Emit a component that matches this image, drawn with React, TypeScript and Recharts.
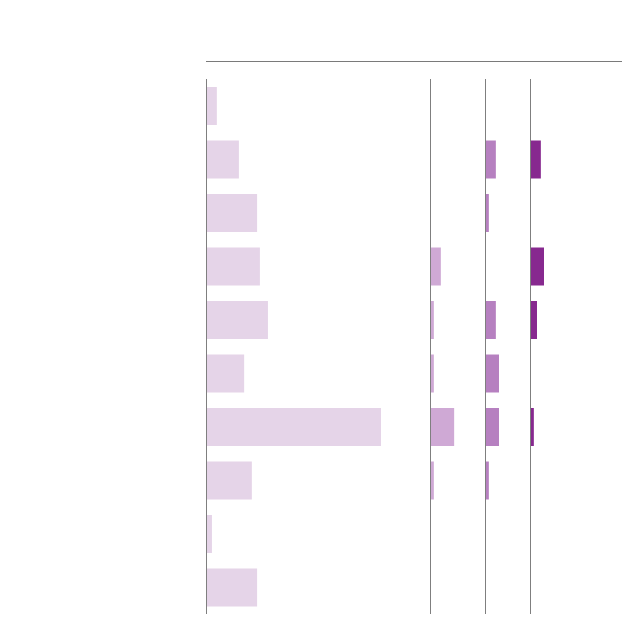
import React from "react";
import { BarChart, Bar, XAxis, YAxis, ReferenceLine } from "recharts";

const categories = ["A", "B", "C", "D", "E", "F", "G", "H", "I", "J"];
const panel1 = [3.1, 9.4, 14.6, 15.4, 17.7, 10.9, 50, 13.1, 1.7, 14.6];
const panel2 = [0, 0, 0, 3.1, 1.1, 1.1, 6.9, 1.1, 0, 0];
const panel3 = [0, 3.1, 1.1, 0, 3.1, 4, 4, 1.1, 0, 0];
const panel4 = [0, 3.1, 0, 4, 2, 0, 1.1, 0, 0, 0];

const PX_PER_UNIT = 3.5;
const TOP = 79;
const HEIGHT = 535;

const panels = [
  { values: panel1, left: 206, width: 224, color: "#e5d4e8" },
  { values: panel2, left: 430, width: 55, color: "#cfa9d5" },
  { values: panel3, left: 485, width: 45, color: "#b680c0" },
  { values: panel4, left: 530, width: 92, color: "#87298f" },
];

const CrispLine = (props: any) => {
  const x = Math.round(props.x1) + 0.5;
  return <line x1={x} x2={x} y1={props.y1} y2={props.y2} stroke="#7f7f7f" strokeWidth={1} />;
};

export default function App() {
  return (
    <div style={{ position: "absolute", left: 0, top: 0, width: 640, height: 642, background: "#fff" }}>
      <div style={{ position: "absolute", left: 206, top: 61, width: 416, height: 1, background: "#7a7a7a" }} />
      {panels.map((p, i) => {
        const data = categories.map((c, k) => ({ name: c, v: p.values[k] }));
        return (
          <div key={i} style={{ position: "absolute", left: p.left - 1, top: TOP }}>
            <BarChart
              width={p.width + 1}
              height={HEIGHT}
              data={data}
              layout="vertical"
              margin={{ top: 0, right: 0, bottom: 0, left: 1 }}
              barSize={38}
            >
              <XAxis type="number" hide domain={[0, p.width / PX_PER_UNIT]} allowDataOverflow />
              <YAxis type="category" dataKey="name" hide />
              <Bar dataKey="v" fill={p.color} isAnimationActive={false} />
              <ReferenceLine x={0} ifOverflow="visible" shape={CrispLine} />
            </BarChart>
          </div>
        );
      })}
    </div>
  );
}
